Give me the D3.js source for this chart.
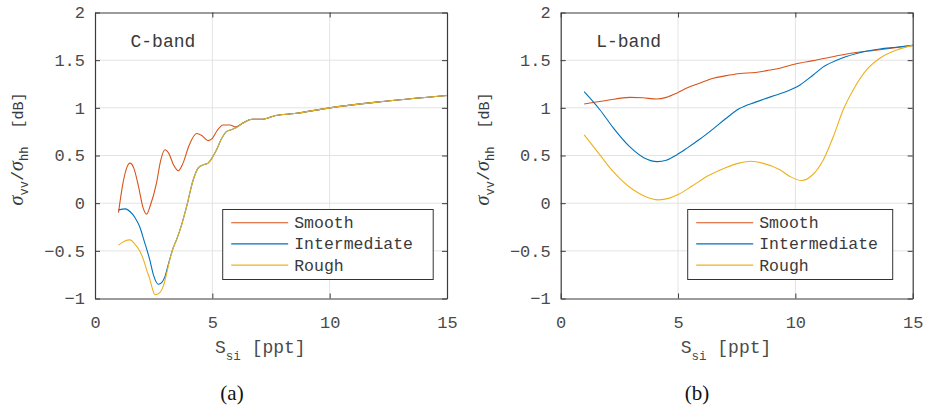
<!DOCTYPE html>
<html><head><meta charset="utf-8">
<script src="https://cdn.jsdelivr.net/npm/d3@7"></script>
<style>body{margin:0;background:#fff}</style>
</head><body>
<script>
// C-band curves (x = salinity ppt, y = dB)
var cSmoothX = [1.0,1.2,1.35,1.49,1.65,1.85,2.05,2.2,2.35,2.62,2.8,2.98,3.15,3.35,3.55,3.75,4.0,4.33,4.55,4.82,5.0,5.2,5.46,5.75,6.0,6.3,6.7,7.1,7.7,8.5,10,12,15]
var cSmoothY = [-0.10,0.22,0.37,0.42,0.37,0.18,-0.05,-0.115,-0.03,0.21,0.45,0.56,0.52,0.40,0.34,0.42,0.60,0.73,0.71,0.656,0.68,0.76,0.82,0.82,0.80,0.84,0.88,0.88,0.92,0.94,1.00,1.06,1.13]
var cInterX = [1.0,1.3,1.5,1.7,1.91,2.1,2.34,2.5,2.7,2.85,2.98,3.15,3.33,3.48,3.7,3.9,4.18,4.4,4.6,4.82,5.0,5.18,5.4,5.6,5.8,6.0,6.3,6.7,7.1,7.7,8.5,10,12,15]
var cInterY = [-0.07,-0.06,-0.09,-0.15,-0.25,-0.40,-0.60,-0.76,-0.85,-0.83,-0.77,-0.62,-0.47,-0.38,-0.22,-0.04,0.24,0.37,0.40,0.42,0.48,0.56,0.68,0.75,0.77,0.79,0.84,0.88,0.88,0.92,0.94,1.00,1.06,1.13]
var cRoughX = [1.0,1.25,1.49,1.7,1.9,2.06,2.2,2.34,2.45,2.55,2.7,2.91,3.05,3.19,3.33,3.48,3.7,3.9,4.18,4.4,4.6,4.82,5.0,5.18,5.4,5.6,5.8,6.0,6.3,6.7,7.1,7.7,8.5,10,12,15]
var cRoughY = [-0.44,-0.40,-0.385,-0.43,-0.50,-0.59,-0.70,-0.80,-0.90,-0.96,-0.95,-0.87,-0.74,-0.59,-0.47,-0.38,-0.22,-0.04,0.24,0.37,0.40,0.42,0.48,0.56,0.68,0.75,0.77,0.79,0.84,0.88,0.88,0.92,0.94,1.00,1.06,1.13]

// L-band curves
var lSmoothX = [1.0,2.0,2.95,3.5,4.09,4.5,4.94,5.4,5.92,6.5,7.0,7.64,8.3,8.78,9.34,10.0,10.76,12.19,13.6,15.0]
var lSmoothY = [1.04,1.08,1.11,1.105,1.093,1.11,1.153,1.21,1.258,1.31,1.335,1.36,1.37,1.39,1.415,1.46,1.495,1.565,1.61,1.655]
var lInterX = [1.0,1.67,2.24,2.95,3.52,4.12,4.5,4.94,5.4,5.92,6.5,7.0,7.6,8.3,9.0,9.5,10.2,10.76,11.19,11.76,12.61,13.6,14.3,15.0]
var lInterY = [1.17,0.98,0.79,0.59,0.48,0.436,0.45,0.506,0.58,0.67,0.78,0.88,0.99,1.06,1.12,1.16,1.24,1.345,1.43,1.50,1.57,1.617,1.635,1.655]
var lRoughX = [1.0,1.67,2.24,3.09,3.6,4.16,4.6,5.0,5.6,6.3,7.0,7.6,8.1,8.6,9.34,9.77,10.27,10.7,11.19,11.62,12.04,12.47,13.04,13.6,14.32,15.0]
var lRoughY = [0.716,0.506,0.33,0.14,0.07,0.035,0.05,0.09,0.18,0.29,0.37,0.42,0.44,0.42,0.35,0.28,0.237,0.29,0.454,0.70,0.98,1.19,1.40,1.52,1.607,1.655]

var seriesNames = ["Smooth","Intermediate","Rough"]
var seriesColors = ["#D95319","#0072BD","#EDB120"]
var xTicks = [0,5,10,15]
var yTicks = [-1,-0.5,0,0.5,1,1.5,2]

var panels = [
    {x0: 95, label: "(a)", band: "C-band", series: [[cSmoothX,cSmoothY],[cInterX,cInterY],[cRoughX,cRoughY]]},
    {x0: 560.7, label: "(b)", band: "L-band", series: [[lSmoothX,lSmoothY],[lInterX,lInterY],[lRoughX,lRoughY]]}
]

var mono = "'Liberation Mono', 'Courier New', monospace"
var textCol = "#4a4a4a"
var W = 930, H = 410
var plotW = 352, plotTop = 12.5, plotBottom = 298.5

var svg = d3.select("body").append("svg")
    .attr("width", W)
    .attr("height", H)
    .style("font-family", mono)

panels.forEach(function(p, pi){
    var x = d3.scaleLinear().domain([0,15]).range([p.x0, p.x0 + plotW])
    var y = d3.scaleLinear().domain([-1,2]).range([plotBottom, plotTop])
    var g = svg.append("g")

    // grid
    g.selectAll(".gx").data(xTicks.slice(1,-1)).enter().append("line")
	.attr("x1", d => x(d)).attr("x2", d => x(d))
	.attr("y1", plotTop).attr("y2", plotBottom)
	.attr("stroke", "#e3e3e3").attr("stroke-width", 1)
    g.selectAll(".gy").data(yTicks.slice(1,-1)).enter().append("line")
	.attr("x1", p.x0).attr("x2", p.x0 + plotW)
	.attr("y1", d => y(d)).attr("y2", d => y(d))
	.attr("stroke", "#e3e3e3").attr("stroke-width", 1)

    // curves
    var line = d3.line()
	.x(d => x(d[0])).y(d => y(d[1]))
	.curve(d3.curveMonotoneX)
    p.series.forEach(function(s, si){
	var pts = s[0].map((v, i) => [v, s[1][i]])
	g.append("path")
	    .datum(pts)
	    .attr("d", line)
	    .attr("fill", "none")
	    .attr("stroke", seriesColors[si])
	    .attr("stroke-width", 1.1)
    })

    // axes (box with inward ticks)
    var fmt = d3.format("")
    var ax = [
	[d3.axisBottom(x).tickValues(xTicks).tickFormat(fmt).tickPadding(17), "translate(0," + plotBottom + ")"],
	[d3.axisTop(x).tickValues(xTicks).tickFormat(""), "translate(0," + plotTop + ")"],
	[d3.axisLeft(y).tickValues(yTicks).tickFormat(fmt).tickPadding(10), "translate(" + p.x0 + ",0)"],
	[d3.axisRight(y).tickValues(yTicks).tickFormat(""), "translate(" + (p.x0 + plotW) + ",0)"]
    ]
    ax.forEach(function(a){
	var ag = g.append("g").attr("transform", a[1])
	    .call(a[0].tickSizeInner(-5).tickSizeOuter(0))
	ag.select(".domain").attr("stroke", "#3a3a3a").attr("stroke-width", 1.2)
	ag.selectAll(".tick line").attr("stroke", "#3a3a3a")
	ag.selectAll(".tick text")
	    .attr("fill", textCol)
	    .style("font-family", mono)
	    .style("font-size", "17px")
    })

    // band label
    g.append("text")
	.attr("x", p.x0 + 35.5)
	.attr("y", 47)
	.attr("fill", "#3a3a3a")
	.style("font-size", "18px")
	.text(p.band)

    // legend
    var lg = g.append("g")
    var lx = p.x0 + (pi == 0 ? 127.7 : 127)
    lg.append("rect")
	.attr("x", lx).attr("y", 209.5)
	.attr("width", pi == 0 ? 210.5 : 205).attr("height", 70)
	.attr("fill", "#fff").attr("stroke", "#333").attr("stroke-width", 1)
    seriesNames.forEach(function(n, i){
	var ry = 222.7 + i * 21.2
	lg.append("line")
	    .attr("x1", lx + 8.5).attr("x2", lx + 65.5)
	    .attr("y1", ry).attr("y2", ry)
	    .attr("stroke", seriesColors[i]).attr("stroke-width", 1.1)
	lg.append("text")
	    .attr("x", lx + 71.5).attr("y", ry + 5.5)
	    .attr("fill", "#3a3a3a")
	    .style("font-size", "16.5px")
	    .text(n)
    })

    // x label
    var xl = g.append("text")
	.attr("x", p.x0 + 120).attr("y", 353)
	.attr("fill", textCol)
	.style("font-size", "18px")
    xl.append("tspan").text("S")
    xl.append("tspan").attr("dy", 7).style("font-size", "12.5px").text("si")
    xl.append("tspan").attr("dy", -7).text("\u00a0[ppt]")

    // y label
    var yl = g.append("text")
	.attr("transform", "translate(" + (p.x0 - 72) + ",149) rotate(-90)")
	.attr("text-anchor", "middle")
	.attr("fill", "#3a3a3a")
	.style("font-size", "15px")
    yl.append("tspan").style("font-family", "'Liberation Serif', serif").style("font-style", "italic").style("font-size", "20px").text("\u03c3")
    yl.append("tspan").attr("dy", 5).style("font-size", "12px").text("vv")
    yl.append("tspan").attr("dy", -5).style("font-size", "17px").text("/")
    yl.append("tspan").style("font-family", "'Liberation Serif', serif").style("font-style", "italic").style("font-size", "20px").text("\u03c3")
    yl.append("tspan").attr("dy", 5).style("font-size", "12px").text("hh")
    yl.append("tspan").attr("dy", -5).text("\u00a0\u00a0[dB]")

    // panel caption
    svg.append("text")
	.attr("x", pi == 0 ? 232 : 697).attr("y", 400)
	.attr("text-anchor", "middle")
	.style("font-family", "'Liberation Serif', serif")
	.style("font-size", "21px")
	.attr("fill", "#111")
	.text(p.label)
})
</script>
</body></html>
